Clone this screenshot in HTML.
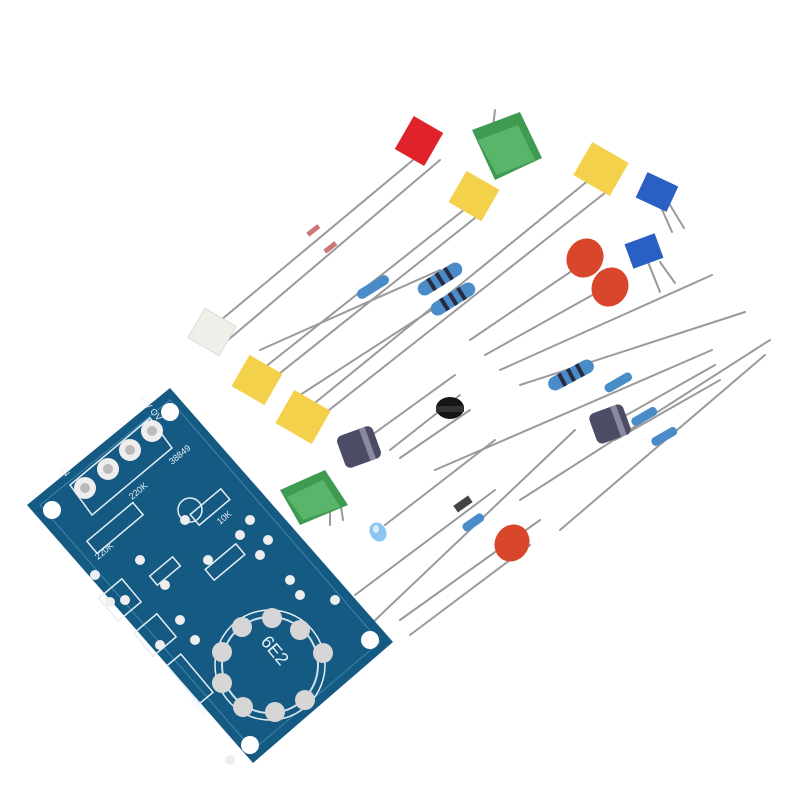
<!DOCTYPE html>
<html><head><meta charset="utf-8"><style>
html,body{margin:0;padding:0;background:#fff}
svg{display:block}
text{font-family:"Liberation Sans",sans-serif}
</style></head><body>
<svg width="800" height="800" viewBox="0 0 800 800" xmlns="http://www.w3.org/2000/svg">
<rect width="800" height="800" fill="#fff"/>
<g stroke="#9a9a9a" stroke-width="2" fill="none" stroke-linecap="round">
<line x1="215" y1="325" x2="425" y2="150"/><line x1="228" y1="340" x2="440" y2="160"/>
<line x1="255" y1="375" x2="470" y2="205"/><line x1="265" y1="385" x2="485" y2="210"/>
<line x1="300" y1="415" x2="595" y2="175"/><line x1="310" y1="425" x2="615" y2="185"/>
<line x1="260" y1="350" x2="440" y2="270"/><line x1="300" y1="395" x2="470" y2="285"/>
<line x1="470" y1="340" x2="585" y2="262"/><line x1="485" y1="355" x2="605" y2="288"/>
<line x1="500" y1="370" x2="712" y2="275"/><line x1="520" y1="385" x2="745" y2="312"/>
<line x1="435" y1="470" x2="712" y2="350"/><line x1="520" y1="500" x2="770" y2="340"/>
<line x1="560" y1="530" x2="765" y2="355"/><line x1="355" y1="595" x2="495" y2="490"/>
<line x1="370" y1="625" x2="575" y2="430"/><line x1="400" y1="620" x2="540" y2="520"/>
<line x1="410" y1="635" x2="530" y2="545"/><line x1="385" y1="525" x2="495" y2="440"/>
<line x1="365" y1="440" x2="455" y2="375"/><line x1="390" y1="450" x2="460" y2="395"/>
<line x1="400" y1="458" x2="470" y2="410"/><line x1="600" y1="430" x2="715" y2="365"/>
<line x1="615" y1="440" x2="720" y2="380"/><line x1="660" y1="205" x2="672" y2="232"/>
<line x1="670" y1="205" x2="684" y2="228"/><line x1="648" y1="262" x2="660" y2="292"/>
<line x1="660" y1="262" x2="675" y2="283"/><line x1="330" y1="505" x2="330" y2="525"/>
<line x1="340" y1="500" x2="343" y2="520"/><line x1="495" y1="110" x2="493" y2="128"/>
</g>
<rect x="402" y="122" width="34" height="38" fill="#e0232a" transform="rotate(30 419 141)"/>
<rect x="455" y="178" width="38" height="36" fill="#f4d14a" transform="rotate(30 474 196)"/>
<rect x="580" y="150" width="42" height="38" fill="#f4d14a" transform="rotate(30 601 169)"/>
<rect x="238" y="362" width="38" height="36" fill="#f4d14a" transform="rotate(30 257 380)"/>
<rect x="282" y="398" width="42" height="38" fill="#f4d14a" transform="rotate(30 303 417)"/>
<rect x="194" y="315" width="36" height="34" fill="#efefea" stroke="#ddd" transform="rotate(30 212 332)"/>
<polygon points="472,130 520,112 542,158 495,180" fill="#3f9b52"/>
<polygon points="478,140 518,125 535,160 497,175" fill="#58b56a"/>
<polygon points="280,490 325,470 348,505 300,525" fill="#3f9b52"/>
<polygon points="287,497 323,480 340,507 303,520" fill="#58b56a"/>
<rect x="640" y="178" width="34" height="28" fill="#2a5fc4" transform="rotate(25 657 192)"/>
<rect x="628" y="238" width="32" height="26" fill="#2a5fc4" transform="rotate(-20 644 251)"/>
<ellipse cx="585" cy="258" rx="18" ry="20" fill="#d8462c" transform="rotate(30 585 258)"/>
<ellipse cx="610" cy="287" rx="18" ry="20" fill="#d8462c" transform="rotate(30 610 287)"/>
<ellipse cx="512" cy="543" rx="17" ry="19" fill="#d8462c" transform="rotate(30 512 543)"/>
<g fill="#4a8cc8">
<rect x="415" y="272" width="50" height="14" rx="7" transform="rotate(-32 440 279)"/>
<rect x="428" y="292" width="50" height="14" rx="7" transform="rotate(-32 453 299)"/>
<rect x="546" y="368" width="50" height="14" rx="7" transform="rotate(-28 571 375)"/>
<rect x="355" y="282" width="36" height="10" rx="5" transform="rotate(-32 373 287)"/>
<rect x="603" y="378" width="30" height="9" rx="4" transform="rotate(-30 618 382)"/>
<rect x="630" y="412" width="28" height="9" rx="4" transform="rotate(-30 644 416)"/>
<rect x="650" y="432" width="28" height="9" rx="4" transform="rotate(-30 664 436)"/>
<rect x="461" y="518" width="24" height="9" rx="4" transform="rotate(-35 473 522)"/>
</g>
<g fill="#2a2a40">
<rect x="428" y="272" width="4" height="14" transform="rotate(-32 440 279)"/>
<rect x="438" y="272" width="4" height="14" transform="rotate(-32 440 279)"/>
<rect x="448" y="272" width="4" height="14" transform="rotate(-32 440 279)"/>
<rect x="441" y="292" width="4" height="14" transform="rotate(-32 453 299)"/>
<rect x="451" y="292" width="4" height="14" transform="rotate(-32 453 299)"/>
<rect x="461" y="292" width="4" height="14" transform="rotate(-32 453 299)"/>
<rect x="559" y="368" width="4" height="14" transform="rotate(-28 571 375)"/>
<rect x="569" y="368" width="4" height="14" transform="rotate(-28 571 375)"/>
<rect x="579" y="368" width="4" height="14" transform="rotate(-28 571 375)"/>
</g>
<rect x="306" y="228" width="14" height="5" fill="#c77" transform="rotate(-38 313 230)"/>
<rect x="323" y="245" width="14" height="5" fill="#c77" transform="rotate(-38 330 247)"/>
<rect x="454" y="500" width="18" height="8" fill="#444" transform="rotate(-35 463 504)"/>
<rect x="340" y="430" width="38" height="34" rx="6" fill="#4c4c66" transform="rotate(-20 359 447)"/>
<rect x="365" y="430" width="6" height="34" fill="#8a8aa0" transform="rotate(-20 359 447)"/>
<rect x="592" y="408" width="36" height="32" rx="6" fill="#4c4c66" transform="rotate(-20 610 424)"/>
<rect x="616" y="408" width="6" height="32" fill="#8a8aa0" transform="rotate(-20 610 424)"/>
<ellipse cx="450" cy="408" rx="14" ry="11" fill="#151515"/>
<rect x="436" y="406" width="28" height="6" fill="#333"/>
<ellipse cx="378" cy="532" rx="8" ry="10" fill="#8cc6f0" transform="rotate(-30 378 532)"/>
<ellipse cx="376" cy="529" rx="3" ry="4" fill="#d8eeff"/>
<polygon points="27,505 170,388 393,642 253,763" fill="#155a82"/>
<polygon points="40,505 170,400 380,642 253,750" fill="none" stroke="#3d86ad" stroke-width="1"/>
<g fill="none" stroke="#e6eef4" stroke-width="1.5">
<polygon points="70,485 150,418 172,448 92,515"/>
<rect x="85" y="520" width="60" height="16" transform="rotate(-40 115 528)"/>
<rect x="190" y="500" width="40" height="14" transform="rotate(-40 210 507)"/>
<rect x="205" y="555" width="40" height="14" transform="rotate(-40 225 562)"/>
<rect x="150" y="565" width="30" height="12" transform="rotate(-40 165 571)"/>
<rect x="165" y="670" width="50" height="18" transform="rotate(50 190 679)"/>
<rect x="105" y="585" width="30" height="30" transform="rotate(-40 120 600)"/>
<rect x="140" y="620" width="30" height="30" transform="rotate(-40 155 635)"/>
<circle cx="190" cy="510" r="12"/>
<circle cx="270" cy="665" r="55"/>
</g>
<g fill="#fff">
<circle cx="52" cy="510" r="9"/><circle cx="170" cy="412" r="9"/>
<circle cx="370" cy="640" r="9"/><circle cx="250" cy="745" r="9"/>
</g>
<g fill="#eee">
<circle cx="85" cy="488" r="11"/><circle cx="108" cy="469" r="11"/><circle cx="130" cy="450" r="11"/><circle cx="152" cy="431" r="11"/>
</g>
<g fill="#bbb">
<circle cx="85" cy="488" r="5"/><circle cx="108" cy="469" r="5"/><circle cx="130" cy="450" r="5"/><circle cx="152" cy="431" r="5"/>
</g>
<circle cx="270" cy="665" r="48" fill="none" stroke="#cfe3ef" stroke-width="2"/>
<g fill="#d6d6d6">
<circle cx="242" cy="627" r="10"/><circle cx="272" cy="618" r="10"/><circle cx="300" cy="630" r="10"/>
<circle cx="222" cy="652" r="10"/><circle cx="323" cy="653" r="10"/><circle cx="222" cy="683" r="10"/>
<circle cx="243" cy="707" r="10"/><circle cx="275" cy="712" r="10"/><circle cx="305" cy="700" r="10"/>
</g>
<g fill="#eee">
<circle cx="110" cy="602" r="5"/><circle cx="125" cy="600" r="5"/><circle cx="165" cy="585" r="5"/>
<circle cx="160" cy="645" r="5"/><circle cx="208" cy="560" r="5"/><circle cx="240" cy="535" r="5"/>
<circle cx="260" cy="555" r="5"/><circle cx="290" cy="580" r="5"/><circle cx="185" cy="520" r="5"/>
<circle cx="230" cy="760" r="5"/><circle cx="335" cy="600" r="5"/><circle cx="95" cy="575" r="5"/>
<circle cx="250" cy="520" r="5"/><circle cx="268" cy="540" r="5"/><circle cx="300" cy="595" r="5"/>
<circle cx="180" cy="620" r="5"/><circle cx="195" cy="640" r="5"/><circle cx="140" cy="560" r="5"/>
</g>
<g fill="#e8f2f8" font-size="9">
<text x="132" y="500" transform="rotate(-40 132 500)">220K</text>
<text x="98" y="560" transform="rotate(-40 98 560)">220K</text>
<text x="220" y="525" transform="rotate(-40 220 525)">10K</text>
<text x="260" y="642" font-size="18" transform="rotate(50 260 642)">6E2</text>
<text x="190" y="700" transform="rotate(50 190 700)">100K</text>
<text x="172" y="465" transform="rotate(-40 172 465)">38849</text>
<text x="60" y="470" transform="rotate(50 60 470)">IN</text>
<text x="140" y="400" transform="rotate(50 140 400)">HV OV</text>
</g>
</svg>
</body></html>
